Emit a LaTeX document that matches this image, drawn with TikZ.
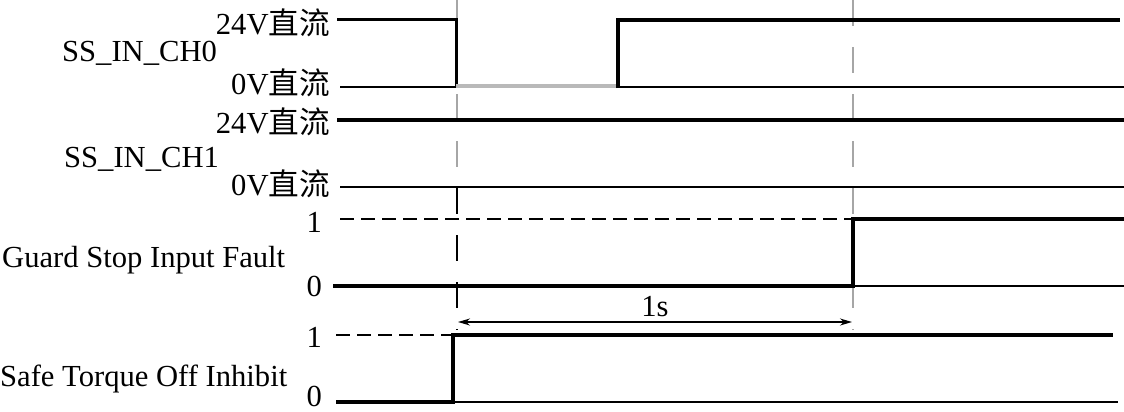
\documentclass[tikz,border=0pt]{standalone}
\usepackage{fontspec}
\setmainfont{Liberation Serif}
\newfontfamily\cjk{Noto Sans CJK SC}
\usetikzlibrary{arrows.meta}
\begin{document}
\begin{tikzpicture}[x=1pt,y=-1pt,
  lbl/.style={font=\fontsize{30.6}{36}\selectfont, inner sep=0pt},
  thk/.style={line width=4.2pt},
  thn/.style={line width=2pt},
  refline/.style={line width=2pt, dash pattern=on 14pt off 7pt},
  guide/.style={line width=2pt, dash pattern=on 26pt off 21pt},
]
\useasboundingbox (0,0) rectangle (1124,412);

% labels
\node[lbl, anchor=base east] (a24) at (330,35) {24V{\cjk 直流}};
\node[lbl, anchor=base east] (a0) at (330,94) {0V{\cjk 直流}};
\node[lbl, anchor=base west] (ch0) at (62,62) {SS\_IN\_CH0};
\node[lbl, anchor=base east] (b24) at (330,133) {24V{\cjk 直流}};
\node[lbl, anchor=base east] (b0) at (330,195) {0V{\cjk 直流}};
\node[lbl, anchor=base west] (ch1) at (64,167) {SS\_IN\_CH1};
\node[lbl, anchor=base east] (g1) at (322,232) {1};
\node[lbl, anchor=base east] (g0) at (322,296) {0};
\node[lbl, anchor=base west] (gsf) at (2,267) {Guard Stop Input Fault};
\node[lbl, anchor=base east] (s1) at (322,347) {1};
\node[lbl, anchor=base east] (s0) at (322,406) {0};
\node[lbl, anchor=base west] (sto) at (0,386) {Safe Torque Off Inhibit};

% vertical guides
\draw[guide, gray!70] (457,0) -- (457,187);
\draw[guide, black, dash phase=0pt] (457,188) -- (457,330);
\draw[guide, gray!70] (853,0) -- (853,330);

% reference dashed lines
\draw[refline] (340,219) -- (853,219);
\draw[refline] (336,335) -- (453,335);

% SS_IN_CH0
\draw[thn] (340,87) -- (1124,87);
\draw[line width=3pt] (337,20) -- (456,20) -- (456,87);
\draw[gray!55, line width=3.5pt] (456,86) -- (618,86);
\draw[thk] (618,88) -- (618,20) -- (1120,20);

% SS_IN_CH1
\draw[thk] (337,120) -- (1124,120);
\draw[thn] (340,187) -- (1124,187);

% Guard Stop Input Fault
\draw[thk] (333,286) -- (853,286) -- (853,219) -- (1124,219);
\draw[thn] (853,286) -- (1124,286);

% Safe Torque Off Inhibit
\draw[thk] (336,402) -- (453,402) -- (453,335) -- (1113,335);
\draw[thn] (453,402) -- (1118,402);

% 1s arrow
\coordinate (t0) at (458,322);
\coordinate (t1) at (852,322);
\draw[line width=1.5pt, {Stealth[length=12pt,width=7pt]}-{Stealth[length=12pt,width=7pt]}] (t0) -- (t1);
\node[lbl, anchor=base] (ones) at (655,316) {1s};
\end{tikzpicture}
\end{document}
